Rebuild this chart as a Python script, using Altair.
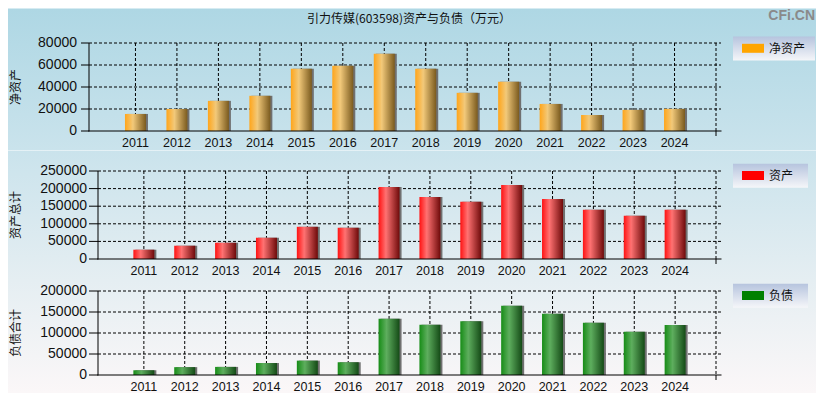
import altair as alt
import pandas as pd

# ---------------- data ----------------
years = [2011, 2012, 2013, 2014, 2015, 2016, 2017, 2018, 2019, 2020, 2021, 2022, 2023, 2024]
net_assets = [15500, 20000, 27400, 32000, 56600, 59300, 70300, 56600, 34700, 44700, 24600, 14600, 19200, 20100]
total_assets = [26400, 37700, 46200, 60400, 91500, 88700, 204700, 176400, 162300, 210400, 170800, 139600, 122600, 139600]
total_liabilities = [11300, 18700, 19300, 28500, 34200, 30200, 134000, 119500, 128000, 165000, 145800, 124500, 103000, 119300]

series_names = ["净资产", "资产", "负债"]
axis_titles = ["净资产", "资产总计", "负债合计"]
y_ticks_net = [0, 20000, 40000, 60000, 80000]
y_ticks_assets = [0, 50000, 100000, 150000, 200000, 250000]
y_ticks_liab = [0, 50000, 100000, 150000, 200000]
x_domain = [2010, 2025]
title_text = "引力传媒(603598)资产与负债（万元）"
watermark = "CFi.CN"

# ---------------- styles ----------------
CJK = "Noto Sans CJK SC"
NUM = "Liberation Sans Narrow, Arial Narrow, Liberation Sans, Arial"
TXT = "#111111"
BG_TOP = (172, 214, 228)
BG_BOTTOM = (253, 248, 248)
OX = 89          # page x of every panel's origin
RIGHT_EDGE = 816  # page x of the right edge of the drawing
DASH = [3, 2]


def bg_at(page_y):
    t = max(0.0, min(1.0, page_y / 400.0))
    c = [round(a + (b - a) * t) for a, b in zip(BG_TOP, BG_BOTTOM)]
    return "#%02x%02x%02x" % tuple(c)


def vgrad(c1, c2):
    return alt.Gradient(gradient="linear", x1=0, y1=0, x2=0, y2=1,
                        stops=[alt.GradientStop(offset=0, color=c1),
                               alt.GradientStop(offset=1, color=c2)])


def hgrad(stops):
    return alt.Gradient(gradient="linear", x1=0, y1=0, x2=1, y2=0,
                        stops=[alt.GradientStop(offset=o, color=c) for o, c in stops])


ORANGE = [(0, "#ffa51a"), (0.38, "#f2c97a"), (1, "#7a5a1e")]
RED = [(0, "#ff1212"), (0.35, "#ff7272"), (1, "#6e0a0a")]
GREEN = [(0, "#168c16"), (0.38, "#5eae5e"), (1, "#144a16")]


def panel(values, name, axis_title, ticks, ymax, stops, swatch, x0, oy, w, h,
          page_top, page_bottom, leg_top, leg_right, tick_size, label_pad, extras=()):
    df = pd.DataFrame({"year": years, "value": values})
    one = pd.DataFrame({"k": [0]})
    tick_df = pd.DataFrame({"v": ticks})
    xscale = alt.Scale(domain=x_domain, range=[x0, w], nice=False, zero=False)
    yscale = alt.Scale(domain=[0, ymax], range=[h, 0], nice=False)
    X = lambda f: alt.X(f, scale=xscale, axis=None)
    Y = lambda f: alt.Y(f, scale=yscale, axis=None)

    bg = alt.Chart(one).mark_rect(color=vgrad(bg_at(page_top), bg_at(page_bottom))).encode(
        x=alt.value(8 - OX), x2=alt.value(RIGHT_EDGE - OX),
        y=alt.value(page_top - oy), y2=alt.value(page_bottom - oy))

    hgrid = alt.Chart(pd.DataFrame({"v": ticks[1:]})).mark_rule(
        color="black", strokeDash=DASH, strokeWidth=1).encode(
        y=Y("v:Q"), x=alt.value(x0), x2=alt.value(w))
    vgrid = alt.Chart(pd.DataFrame({"yr": years + [x_domain[1]]})).mark_rule(
        color="black", strokeDash=DASH, strokeWidth=1).encode(
        x=X("yr:Q"), y=alt.value(0), y2=alt.value(h))

    shadow = alt.Chart(df).mark_bar(width=21, color="#707070", xOffset=2, orient="vertical").encode(
        x=X("year:Q"), y=Y("value:Q"))
    bars = alt.Chart(df).mark_bar(width=21, color=hgrad(stops), orient="vertical").encode(
        x=X("year:Q"), y=Y("value:Q"))

    # axes drawn as marks so they sit above the gradient background
    y_dom = alt.Chart(one).mark_rule(color="black").encode(
        x=alt.value(x0), y=alt.value(0), y2=alt.value(h + 0.5))
    x_dom = alt.Chart(one).mark_rule(color="black").encode(
        x=alt.value(x0 - 0.5), x2=alt.value(w + 0.5), y=alt.value(h))
    y_tk = alt.Chart(tick_df).mark_rule(color="black").encode(
        y=Y("v:Q"), x=alt.value(x0 - tick_size), x2=alt.value(x0))
    y_lab = alt.Chart(tick_df).mark_text(
        font=NUM, fontSize=14, color=TXT, align="right", baseline="middle").encode(
        y=Y("v:Q"), x=alt.value(x0 - tick_size - label_pad), text=alt.Text("v:Q", format="d"))
    end_tk = alt.Chart(pd.DataFrame({"yr": [x_domain[1]]})).mark_rule(color="black").encode(
        x=X("yr:Q"), y=alt.value(h), y2=alt.value(h + 5))
    x_lab = alt.Chart(pd.DataFrame({"yr": years})).mark_text(
        font=NUM, fontSize=12.5, color=TXT, align="center", baseline="top").encode(
        x=X("yr:Q"), y=alt.value(h + 5.5), text=alt.Text("yr:Q", format="d"))
    y_title = alt.Chart(pd.DataFrame({"t": [axis_title]})).mark_text(
        font=CJK, fontSize=12, color=TXT, angle=270, align="center", baseline="middle").encode(
        text="t:N", x=alt.value(16 - OX), y=alt.value(h / 2))

    leg_box = alt.Chart(one).mark_rect(color=vgrad("#b6c4de", "#f5f6f9")).encode(
        x=alt.value(733 - OX), x2=alt.value(leg_right - OX),
        y=alt.value(leg_top - oy), y2=alt.value(leg_top + 24 - oy))
    leg_sw = alt.Chart(one).mark_rect(color=swatch).encode(
        x=alt.value(742 - OX), x2=alt.value(764 - OX),
        y=alt.value(leg_top + 7.3 - oy), y2=alt.value(leg_top + 16.3 - oy))
    leg_txt = alt.Chart(pd.DataFrame({"t": [name]})).mark_text(
        font=CJK, fontSize=12, color=TXT, align="left", baseline="middle").encode(
        text="t:N", x=alt.value(769 - OX), y=alt.value(leg_top + 12 - oy))

    layers = [bg, hgrid, vgrid, shadow, bars, y_dom, x_dom, y_tk, y_lab, end_tk, x_lab,
              y_title, leg_box, leg_sw, leg_txt] + list(extras)
    return alt.layer(*layers).properties(width=w, height=h)


# panel 1 extras: chart title and watermark
O1Y = 42.5
title_mark = alt.Chart(pd.DataFrame({"t": [title_text]})).mark_text(
    font=CJK, fontSize=12, color=TXT, align="center", baseline="middle").encode(
    text="t:N", x=alt.value(409 - OX), y=alt.value(18.5 - O1Y))
wm_mark = alt.Chart(pd.DataFrame({"t": [watermark]})).mark_text(
    font="Liberation Sans, Arial", fontSize=14, fontWeight="bold", color="#8a8a8a",
    align="right", baseline="middle").encode(
    text="t:N", x=alt.value(815 - OX), y=alt.value(15.5 - O1Y))

p1 = panel(net_assets, series_names[0], axis_titles[0], y_ticks_net, 80000, ORANGE, "#ffa500",
           0, O1Y, 632, 88, 8, 150, 36, 815, 8, 4, extras=(title_mark, wm_mark))
p2 = panel(total_assets, series_names[1], axis_titles[1], y_ticks_assets, 250000, RED, "#ff0000",
           9, 170, 632, 88, 150, 280, 162.7, 808, 9, 2)
p3 = panel(total_liabilities, series_names[2], axis_titles[2], y_ticks_liab, 200000, GREEN, "#008000",
           9, 290, 632, 84, 280, 392, 282.7, 808, 9, 2)

chart = alt.concat(p1, p2, p3, columns=1, spacing=0, align="none", bounds="full").properties(
    padding=0, background="white").configure_view(strokeWidth=0)

chart.save("out.html", embed_options={"renderer": "svg", "actions": False})
